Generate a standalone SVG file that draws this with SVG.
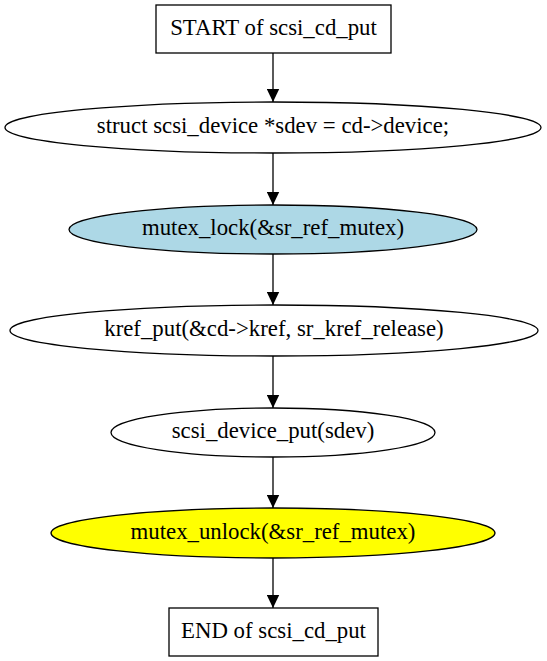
<svg xmlns="http://www.w3.org/2000/svg" width="547" height="661" viewBox="0 0 547 661">
<style>
.n{stroke:#000;stroke-width:1.3}
.t{font-family:"Liberation Serif","Times New Roman",serif;font-size:22.8px;text-anchor:middle;fill:#000}
.e{stroke:#000;stroke-width:1.3;fill:none}
</style>
<defs>
<marker id="ah" markerWidth="13" markerHeight="13" refX="13" refY="6.5" orient="auto" markerUnits="userSpaceOnUse" viewBox="0 0 13 13">
<path d="M0,0.3 L13,6.5 L0,12.7 Z" fill="#000"/>
</marker>
</defs>
<rect width="547" height="661" fill="#fff"/>
<g id="edges">
<path class="e" d="M273,53 V102" marker-end="url(#ah)"/>
<path class="e" d="M273,153 V205" marker-end="url(#ah)"/>
<path class="e" d="M273,254 V305" marker-end="url(#ah)"/>
<path class="e" d="M273,356 V408" marker-end="url(#ah)"/>
<path class="e" d="M273,457 V508" marker-end="url(#ah)"/>
<path class="e" d="M273,558 V608" marker-end="url(#ah)"/>
</g>
<g id="start">
<rect class="n" x="156" y="5" width="235" height="48" fill="#fff"/>
<text class="t" x="273.5" y="35">START of scsi_cd_put</text>
</g>
<g id="n1">
<ellipse class="n" cx="273" cy="127.5" rx="268" ry="25.5" fill="#fff"/>
<text class="t" x="273" y="133">struct scsi_device *sdev = cd-&gt;device;</text>
</g>
<g id="n2">
<ellipse class="n" cx="273" cy="229.5" rx="204" ry="24.5" fill="#add8e6"/>
<text class="t" x="273" y="235">mutex_lock(&amp;sr_ref_mutex)</text>
</g>
<g id="n3">
<ellipse class="n" cx="274" cy="330.5" rx="264" ry="25.5" fill="#fff"/>
<text class="t" x="274" y="336">kref_put(&amp;cd-&gt;kref, sr_kref_release)</text>
</g>
<g id="n4">
<ellipse class="n" cx="273" cy="432.5" rx="162" ry="24.5" fill="#fff"/>
<text class="t" x="273" y="438">scsi_device_put(sdev)</text>
</g>
<g id="n5">
<ellipse class="n" cx="273" cy="533" rx="222" ry="25" fill="#ffff00"/>
<text class="t" x="273" y="538.5">mutex_unlock(&amp;sr_ref_mutex)</text>
</g>
<g id="end">
<rect class="n" x="169" y="608" width="209" height="48" fill="#fff"/>
<text class="t" x="273.5" y="638">END of scsi_cd_put</text>
</g>
</svg>
